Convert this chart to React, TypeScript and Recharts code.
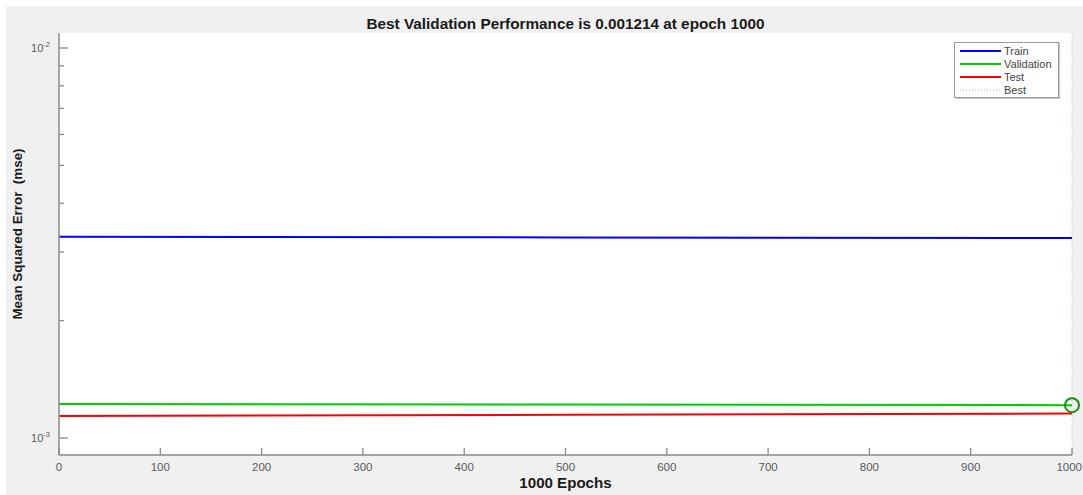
import React from 'react';
import {
  LineChart,
  Line,
  XAxis,
  YAxis,
  CartesianGrid,
  ReferenceLine,
  ReferenceDot,
} from 'recharts';

// ---- data ----
const epochs = [0, 500, 1000];
const trainMse = [0.003281, 0.003269, 0.003256];
const validationMse = [0.001222, 0.001218, 0.001214];
const testMse = [0.001139, 0.001147, 0.001155];
const xTicks = [0, 100, 200, 300, 400, 500, 600, 700, 800, 900, 1000];
const yTicks = [0.001, 0.002, 0.003, 0.004, 0.005, 0.006, 0.007, 0.008, 0.009, 0.01];
const bestEpoch = 1000;
const bestPerf = 0.001214;
const seriesNames = ['Train', 'Validation', 'Test', 'Best'];
const seriesColors = ['#0000ff', '#00cc00', '#ff0000', '#8fd68f'];
const titleText = 'Best Validation Performance is 0.001214 at epoch 1000';
const xLabel = '1000 Epochs';
const yLabel = 'Mean Squared Error  (mse)';

const data = epochs.map((e, i) => ({
  epoch: e,
  train: trainMse[i],
  validation: validationMse[i],
  test: testMse[i],
}));

const FONT = '"Liberation Sans", Arial, Helvetica, sans-serif';
const AXIS_COLOR = '#8a8a8a';
const TICK_TEXT = '#5a5a5a';

const YTick = (props: any) => {
  const { x, y, payload } = props;
  const v = payload.value as number;
  const lg = Math.log10(v);
  const major = Math.abs(lg - Math.round(lg)) < 1e-6;
  return (
    <g>
      <line x1={x} x2={x + (major ? 9 : 5)} y1={y} y2={y} stroke={AXIS_COLOR} strokeWidth={1.3} />
      {major && (
        <text x={x - 9} y={y + 4} textAnchor="end" fontSize={11} fill={TICK_TEXT} fontFamily={FONT}>
          10
          <tspan dy={-5} fontSize={7.5}>{String(Math.round(lg))}</tspan>
        </text>
      )}
    </g>
  );
};

const XTick = (props: any) => {
  const { x, y, payload } = props;
  const isLast = payload.value === xTicks[xTicks.length - 1];
  return (
    <g>
      <line x1={x} x2={x} y1={y - 7} y2={y} stroke={AXIS_COLOR} strokeWidth={1.3} />
      <text
        x={isLast ? 1082 : x}
        y={y + 16}
        textAnchor={isLast ? 'end' : 'middle'}
        fontSize={11.5}
        fill={TICK_TEXT}
        fontFamily={FONT}
      >
        {payload.value}
      </text>
    </g>
  );
};

export default function App() {
  return (
    <div
      style={{
        position: 'absolute',
        left: 0,
        top: 0,
        width: 1083,
        height: 495,
        background: '#ffffff',
        overflow: 'hidden',
        fontFamily: FONT,
      }}
    >
      <div
        style={{
          position: 'absolute',
          left: 6,
          top: 6,
          width: 1077,
          height: 489,
          background: '#f0f0f0',
        }}
      />
      <div style={{ position: 'absolute', left: 0, top: 0 }}>
        <LineChart
          width={1083}
          height={495}
          data={data}
          margin={{ top: 33, right: 11, left: 8, bottom: 10 }}
        >
          <CartesianGrid horizontal={false} vertical={false} fill="#ffffff" stroke="none" />
          <XAxis
            dataKey="epoch"
            type="number"
            domain={[0, 1000]}
            ticks={xTicks}
            interval={0}
            height={30}
            tickSize={0}
            tickMargin={0}
            tickLine={false}
            axisLine={{ stroke: AXIS_COLOR, strokeWidth: 1.5 }}
            tick={<XTick />}
            allowDataOverflow
          />
          <YAxis
            type="number"
            scale="log"
            domain={[0.0009046, 0.010926]}
            ticks={yTicks}
            interval={0}
            width={51}
            tickSize={0}
            tickMargin={0}
            tickLine={false}
            axisLine={{ stroke: AXIS_COLOR, strokeWidth: 1.5 }}
            tick={<YTick />}
            allowDataOverflow
          />
          <ReferenceLine
            x={bestEpoch}
            stroke={seriesColors[3]}
            strokeDasharray="1 2"
            strokeWidth={1}
          />
          <Line
            type="linear"
            dataKey="train"
            name={seriesNames[0]}
            stroke={seriesColors[0]}
            strokeWidth={2}
            dot={false}
            isAnimationActive={false}
          />
          <Line
            type="linear"
            dataKey="validation"
            name={seriesNames[1]}
            stroke={seriesColors[1]}
            strokeWidth={2}
            dot={false}
            isAnimationActive={false}
          />
          <Line
            type="linear"
            dataKey="test"
            name={seriesNames[2]}
            stroke={seriesColors[2]}
            strokeWidth={2}
            dot={false}
            isAnimationActive={false}
          />
          <ReferenceDot
            x={bestEpoch}
            y={bestPerf}
            r={7}
            fill="none"
            stroke="#178a17"
            strokeWidth={2}
            ifOverflow="visible"
          />
        </LineChart>
      </div>

      {/* title */}
      <div
        style={{
          position: 'absolute',
          left: 59,
          width: 1013,
          top: 15,
          textAlign: 'center',
          fontSize: 15.3,
          fontWeight: 'bold',
          color: '#1a1a1a',
          lineHeight: '17px',
          whiteSpace: 'nowrap',
        }}
      >
        {titleText}
      </div>

      {/* x label */}
      <div
        style={{
          position: 'absolute',
          left: 59,
          width: 1013,
          top: 474,
          textAlign: 'center',
          fontSize: 15.1,
          fontWeight: 'bold',
          color: '#1a1a1a',
          lineHeight: '17px',
          whiteSpace: 'nowrap',
        }}
      >
        {xLabel}
      </div>

      {/* y label */}
      <div
        style={{
          position: 'absolute',
          left: 18 - 150,
          top: 234 - 9,
          width: 300,
          height: 18,
          lineHeight: '18px',
          textAlign: 'center',
          transform: 'rotate(-90deg)',
          transformOrigin: '150px 9px',
          fontSize: 13.4,
          fontWeight: 'bold',
          color: '#1a1a1a',
          whiteSpace: 'pre',
        }}
      >
        {yLabel}
      </div>

      {/* legend */}
      <div
        style={{
          position: 'absolute',
          left: 954,
          top: 42,
          width: 103,
          height: 54,
          background: '#ffffff',
          border: '1px solid #9a9a9a',
          boxShadow: '1px 1px 0 #c8c8c8',
        }}
      >
        <svg width={103} height={54} style={{ display: 'block' }}>
          {seriesNames.map((n, i) => {
            const yy = 8 + i * 13;
            return (
              <g key={n}>
                <line
                  x1={5}
                  x2={46}
                  y1={yy}
                  y2={yy}
                  stroke={seriesColors[i]}
                  strokeWidth={i === 3 ? 1 : 2}
                  strokeDasharray={i === 3 ? '1 2' : undefined}
                />
                <text x={49} y={yy + 4} fontSize={11} fill="#444" fontFamily={FONT}>
                  {n}
                </text>
              </g>
            );
          })}
        </svg>
      </div>
    </div>
  );
}
